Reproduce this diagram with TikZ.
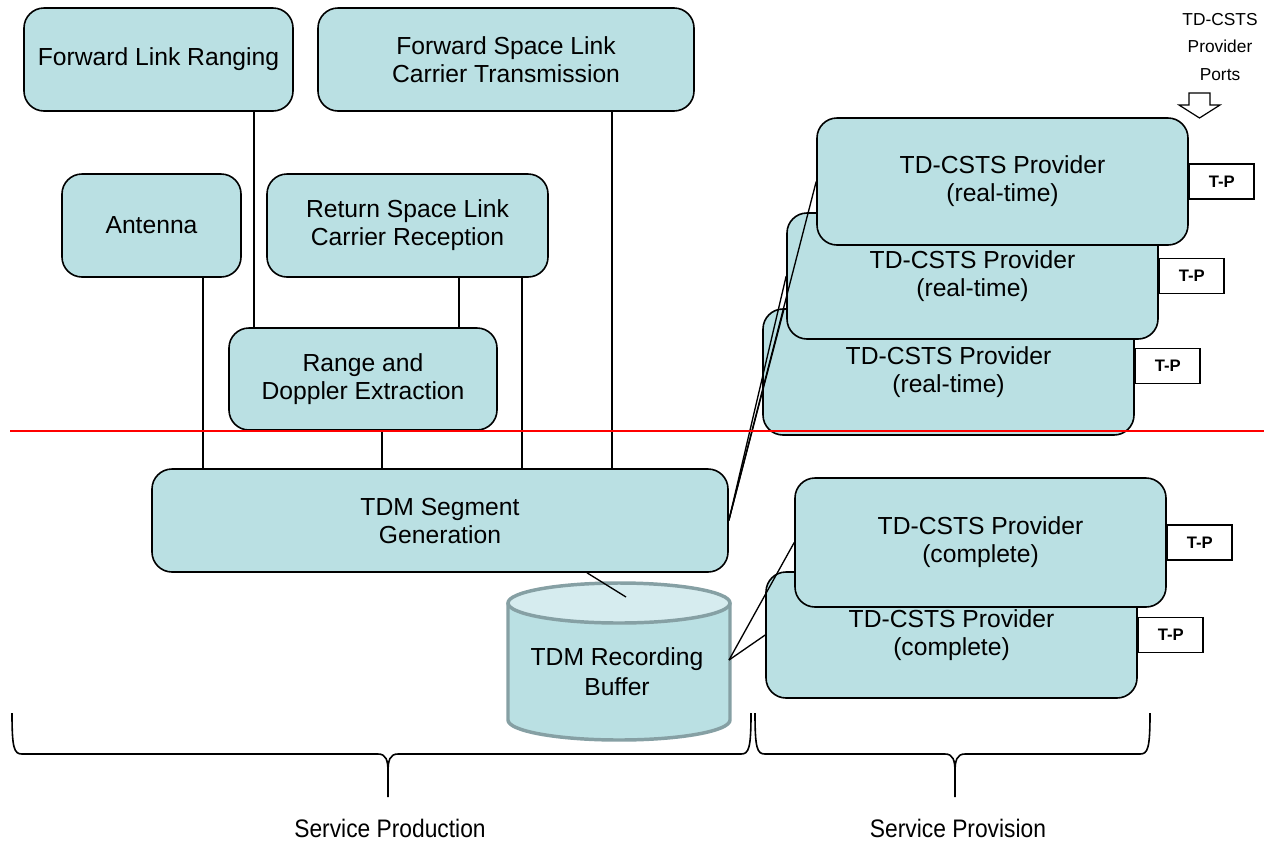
\documentclass[tikz,border=0pt]{standalone}
\usepackage{fontspec}
\setmainfont{Liberation Sans}
\newfontfamily\condfont[FakeStretch=0.9]{Liberation Sans}
\usetikzlibrary{calc}
\definecolor{boxfill}{RGB}{186,224,227}
\definecolor{cyltop}{RGB}{214,236,239}
\definecolor{cylline}{RGB}{134,160,164}
\newcommand\mkbox[6]{\node[box, minimum width={(#4-#2)*0.75pt}, minimum height={(#5-#3)*0.75pt}] (#1) at ({(#2+#4)/2},{(#3+#5)/2}) {#6};}
\newcommand\mybrace[3]{\draw[brc] (#1,713) .. controls (#1,748) and (#1+2,754) .. (#1+10,754) -- (#2-10,754) .. controls (#2-2,754) and (#2,760) .. (#2,772) -- (#2,797) (#2,772) .. controls (#2,760) and (#2+2,754) .. (#2+10,754) -- (#3-10,754) .. controls (#3-2,754) and (#3,748) .. (#3,713);}
\begin{document}
\begin{tikzpicture}[x=0.75pt,y=-0.75pt,
  box/.style={draw=black, line width=1.2pt, fill=boxfill, rounded corners=15pt, align=center, inner sep=0pt, font=\fontsize{18.5}{21}\selectfont},
  tp/.style={draw=black, line width=1.1pt, fill=white, minimum width=48.5pt, minimum height=26pt, inner sep=0pt, font=\fontsize{12.5}{14}\selectfont\bfseries, anchor=west},
  conn/.style={draw=black, line width=1pt},
  brc/.style={draw=black, line width=1.2pt},
  lbl/.style={font=\condfont\fontsize{19}{22}\selectfont, inner sep=0pt}
]
\useasboundingbox (0,0) rectangle (1264,847);

% service production boxes
\mkbox{flr}{24}{8}{293}{111}{Forward Link Ranging}
\mkbox{fslct}{318}{8}{694}{111}{Forward Space Link\\Carrier Transmission}
\mkbox{ant}{62}{174}{241}{277}{Antenna}
\mkbox{rslcr}{267}{174}{548}{277}{Return Space Link\\Carrier Reception}
\mkbox{rde}{229}{328}{497}{430}{Range and\\Doppler Extraction}
\mkbox{tdm}{152}{469}{728}{572}{TDM Segment\\Generation}

% vertical connectors
\draw[conn] ($(flr.south)+(95.5,0)$) coordinate (c1) -- (c1 |- rde.north);
\draw[conn] ($(ant.south)+(51.5,0)$) coordinate (c2) -- (c2 |- tdm.north);
\draw[conn] ($(rslcr.south)+(51.5,0)$) coordinate (c3) -- (c3 |- rde.north);
\draw[conn] ($(rslcr.south)+(114.5,0)$) coordinate (c4) -- (c4 |- tdm.north);
\draw[conn] ($(fslct.south)+(106,0)$) coordinate (c5) -- (c5 |- tdm.north);
\draw[conn] ($(rde.south)+(19,0)$) coordinate (c6) -- (c6 |- tdm.north);

% recording buffer (cylinder)
\fill[boxfill] (508,603) -- (508,720) arc[start angle=180, end angle=360, x radius=83.25pt, y radius=15pt] -- (730,603) arc[start angle=0, end angle=180, x radius=83.25pt, y radius=15pt] -- cycle;
\draw[cylline, line width=2.6pt] (508,603) -- (508,720) arc[start angle=180, end angle=360, x radius=83.25pt, y radius=15pt] -- (730,603);
\draw[cylline, line width=2.6pt, fill=cyltop] (619,603) ellipse [x radius=83.25pt, y radius=15pt];
\node[align=center, font=\fontsize{18.5}{22.5}\selectfont, inner sep=0pt] (buf) at (617,672) {TDM Recording\\Buffer};
\coordinate (cylin) at (626,597);
\coordinate (cylR) at (729,660);
\draw[conn] ($(tdm.south)+(147,0)$) -- (cylin);

% service provision boxes
\mkbox{rt3}{763}{309}{1134}{435}{TD-CSTS Provider\\(real-time)}
\mkbox{rt2}{787}{213}{1158}{339}{TD-CSTS Provider\\(real-time)}
\mkbox{rt1}{817}{118}{1188}{245}{TD-CSTS Provider\\(real-time)}
\mkbox{ct2}{766}{572}{1137}{698}{TD-CSTS Provider\\(complete)}
\mkbox{ct1}{795}{478}{1166}{607}{TD-CSTS Provider\\(complete)}

\node[tp] (tp1) at (rt1.east) {T-P};
\node[tp] (tp2) at (rt2.east) {T-P};
\node[tp] (tp3) at ($(rt3.east)+(0,-6)$) {T-P};
\node[tp] (tp4) at (ct1.east) {T-P};
\node[tp] (tp5) at (ct2.east) {T-P};

% provider connectors
\draw[conn] (tdm.east) -- (rt1.west);
\draw[conn] (tdm.east) -- (rt2.west);
\draw[conn] (tdm.east) -- ($(rt3.north west)+(22,0)$);
\draw[conn] (cylR) -- (ct1.west);
\draw[conn] (cylR) -- (ct2.west);

% red separator
\coordinate (redL) at (10,431);
\coordinate (redR) at (1264,431);
\draw[red, line width=1.5pt] (redL) -- (redR);

% ports label and arrow
\node[align=center, font=\fontsize{13}{20.5}\selectfont, inner sep=0pt] (ports) at (1220,47) {TD-CSTS\\Provider\\Ports};
\draw[black, line width=0.9pt, fill=white] (1189,93) -- (1210,93) -- (1210,105) -- (1220,105) -- (1199.5,118) -- (1179,105) -- (1189,105) -- cycle;

% braces
\mybrace{12}{388}{751}
\mybrace{755}{955}{1150}
\node[lbl] (sprod) at (390,828) {Service Production};
\node[lbl] (sprov) at (958,828) {Service Provision};
\end{tikzpicture}
\end{document}
